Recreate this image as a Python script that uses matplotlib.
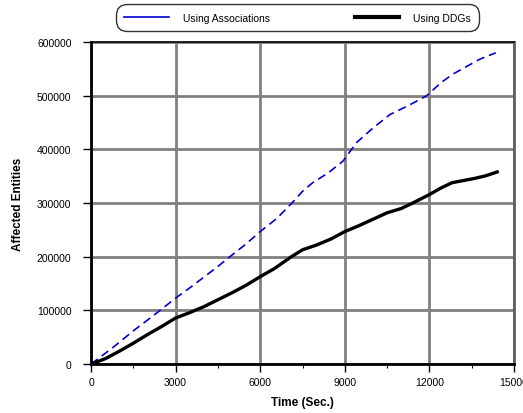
import matplotlib
matplotlib.use("Agg")
import matplotlib.pyplot as plt
from matplotlib.lines import Line2D

plt.rcParams['font.family'] = ['Liberation Sans', 'DejaVu Sans']

assoc_t = [0, 300, 800, 1500, 2200, 3000, 3500, 4000, 4500, 4920, 5500, 6000, 6600, 7120,
           7500, 7860, 8400, 8930, 9420, 10000, 10600, 11300, 11900, 12400, 12820, 13300, 13780, 14350]
assoc_v = [0, 12000, 32000, 62000, 90000, 123000, 142000, 162000, 182000, 200000, 224000, 247000,
           272000, 300000, 322000, 338000, 356000, 378000, 413000, 440000, 465000, 483000, 500000,
           524000, 540000, 554000, 568000, 580000]

ddg_t = [0, 500, 1000, 1500, 2000, 2500, 3000, 3500, 4000, 4500, 5000, 5500, 6000, 6500, 7100,
         7500, 8000, 8500, 9000, 9500, 10000, 10500, 11000, 11400, 12000, 12400, 12800, 13200,
         13600, 14000, 14400]
ddg_v = [0, 10000, 24000, 39000, 55000, 70000, 86000, 96000, 107000, 120000, 133000, 147000,
         163000, 178000, 200000, 213000, 222000, 233000, 247000, 258000, 270000, 282000, 290000,
         300000, 316000, 328000, 338000, 342000, 346000, 351000, 358000]

x_ticks = [0, 3000, 6000, 9000, 12000, 15000]
y_ticks = [0, 100000, 200000, 300000, 400000, 500000, 600000]

fig = plt.figure(figsize=(5.23, 4.14), dpi=100)
ax = fig.add_axes([0.174, 0.118, 0.809, 0.778])

ax.plot(assoc_t, assoc_v, color='#0000cc', lw=1.2, ls=(0, (5, 3)), zorder=3)
ax.plot(ddg_t, ddg_v, color='black', lw=2.4, zorder=3)

ax.set_xlim(0, 15000)
ax.set_ylim(0, 600000)
ax.set_xticks(x_ticks)
ax.set_yticks(y_ticks)
ax.set_xticks(range(1500, 15000, 3000), minor=True)
ax.tick_params(axis='both', labelsize=7.5, direction='out', length=6, width=1)
ax.tick_params(axis='y', pad=8)
ax.tick_params(axis='x', pad=3)
ax.tick_params(axis='x', which='minor', length=3, width=0.8)
ax.grid(True, which='major', color='#808080', lw=2.0, zorder=1)

ax.spines['left'].set_linewidth(2)
ax.spines['bottom'].set_linewidth(2)
ax.spines['top'].set_linewidth(1.2)
ax.spines['right'].set_color('#606060')
ax.spines['right'].set_linewidth(2)

ax.set_xlabel('Time (Sec.)', fontsize=8.5, fontweight='bold', labelpad=7)
ax.set_ylabel('Affected Entities', fontsize=8.5, fontweight='bold', labelpad=9)

handles = [Line2D([], [], color='#0000cc', lw=1.2),
           Line2D([], [], color='black', lw=3)]
leg = fig.legend(handles, ['Using Associations', 'Using DDGs'], ncol=2, mode='expand',
                 bbox_to_anchor=(0.226, 0.928, 0.686, 0.06), loc='lower left',
                 fontsize=7.5, fancybox=True, frameon=True, handlelength=4.3,
                 handletextpad=1.3, borderaxespad=0, borderpad=0.6)
leg.get_frame().set_edgecolor('black')
leg.get_frame().set_linewidth(1)
leg.get_frame().set_boxstyle('round,pad=0.2,rounding_size=1.0')

fig.savefig('out.png', dpi=100)
